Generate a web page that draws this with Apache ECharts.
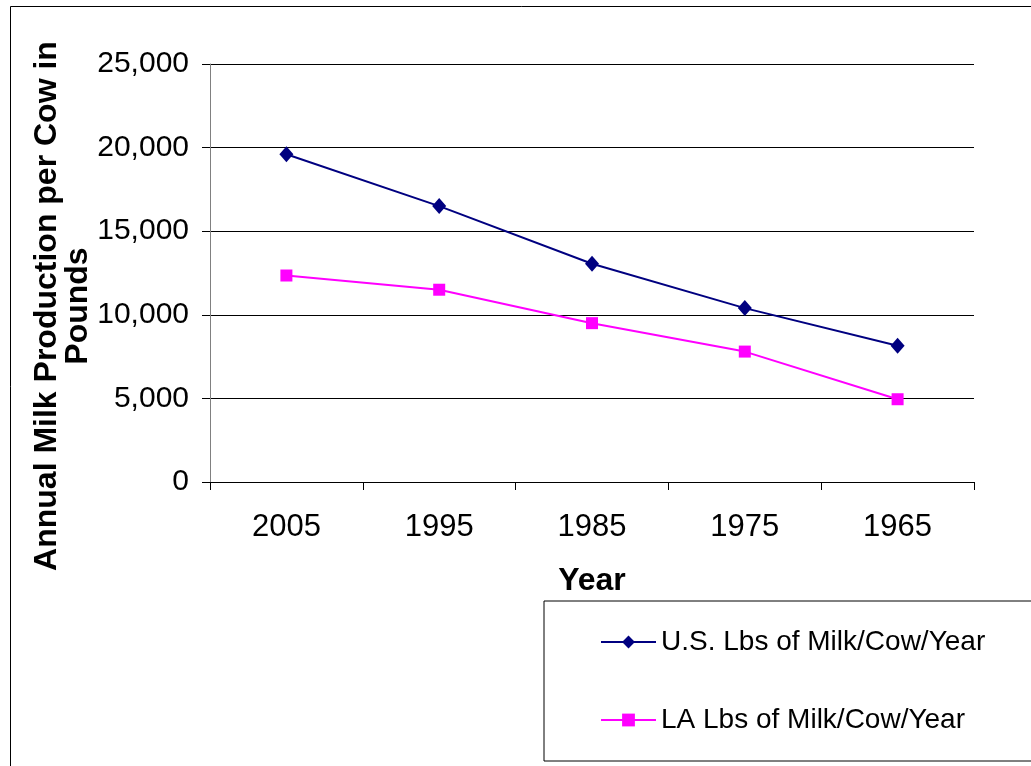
<!DOCTYPE html>
<html>
<head>
<meta charset="utf-8">
<script src="https://cdn.jsdelivr.net/npm/echarts@6/dist/echarts.min.js"></script>
<style>
html,body{margin:0;padding:0;background:#fff;}
#chart{width:1031px;height:766px;}
</style>
</head>
<body>
<div id="chart"></div>
<script>
const categories = ['2005', '1995', '1985', '1975', '1965'];
const usValues = [19600, 16500, 13050, 10400, 8150];
const laValues = [12350, 11500, 9500, 7800, 4950];
const yTicks = [0, 5000, 10000, 15000, 20000, 25000];
const usName = 'U.S. Lbs of Milk/Cow/Year';
const laName = 'LA Lbs of Milk/Cow/Year';
const yTitle = 'Annual Milk Production per Cow in\nPounds';
const xTitle = 'Year';

const FONT = "Arial, 'Liberation Sans', sans-serif";
const chart = echarts.init(document.getElementById('chart'));
chart.setOption({
  animation: false,
  backgroundColor: '#fff',
  grid: { left: 210, right: 57, top: 64, bottom: 284, containLabel: false },
  xAxis: {
    type: 'category',
    data: categories,
    boundaryGap: true,
    name: xTitle,
    nameLocation: 'middle',
    nameGap: 83,
    nameTextStyle: { fontFamily: FONT, fontSize: 32, fontWeight: 'bold', color: '#000' },
    axisLine: { lineStyle: { color: '#000', width: 1 } },
    axisTick: { show: true, length: 8, inside: false, alignWithLabel: false, lineStyle: { color: '#000' } },
    axisLabel: { fontFamily: FONT, fontSize: 31, color: '#000', margin: 30 },
    splitLine: { show: false }
  },
  yAxis: {
    type: 'value',
    min: yTicks[0],
    max: yTicks[yTicks.length - 1],
    interval: yTicks[1] - yTicks[0],
    axisLine: { show: true, lineStyle: { color: '#808080', width: 1 } },
    axisTick: { show: true, length: 8, lineStyle: { color: '#000' } },
    axisLabel: {
      fontFamily: FONT, fontSize: 30, color: '#000', margin: 21,
      formatter: v => v.toLocaleString('en-US')
    },
    splitLine: { show: true, lineStyle: { color: '#000', width: 1 } }
  },
  legend: {
    orient: 'vertical',
    left: 544,
    top: 601,
    padding: [27, 150, 27, 56],
    itemGap: 50,
    itemWidth: 55,
    itemHeight: 16,
    borderColor: '#000',
    borderWidth: 1,
    backgroundColor: '#fff',
    textStyle: { fontFamily: FONT, fontSize: 28, color: '#000' },
    data: [usName, laName]
  },
  graphic: [
    {
      type: 'rect', left: 8, top: 4, z: -10, silent: true,
      shape: { x: 0, y: 0, width: 1100, height: 800 },
      style: { fill: 'none', stroke: '#000', lineWidth: 1 }
    },
    {
      type: 'text', x: 63, y: 306, rotation: Math.PI / 2,
      style: {
        text: yTitle, fontFamily: FONT, fontSize: 32, fontWeight: 'bold',
        fill: '#000', align: 'center', verticalAlign: 'middle', lineHeight: 31
      }
    }
  ],
  series: [
    {
      name: usName, type: 'line', data: usValues,
      symbol: 'diamond', symbolSize: [14, 16], showAllSymbol: true,
      lineStyle: { color: '#000080', width: 2 },
      itemStyle: { color: '#000080' }
    },
    {
      name: laName, type: 'line', data: laValues,
      symbol: 'rect', symbolSize: 12, showAllSymbol: true,
      lineStyle: { color: '#FF00FF', width: 2 },
      itemStyle: { color: '#FF00FF' }
    }
  ]
});
</script>
</body>
</html>
